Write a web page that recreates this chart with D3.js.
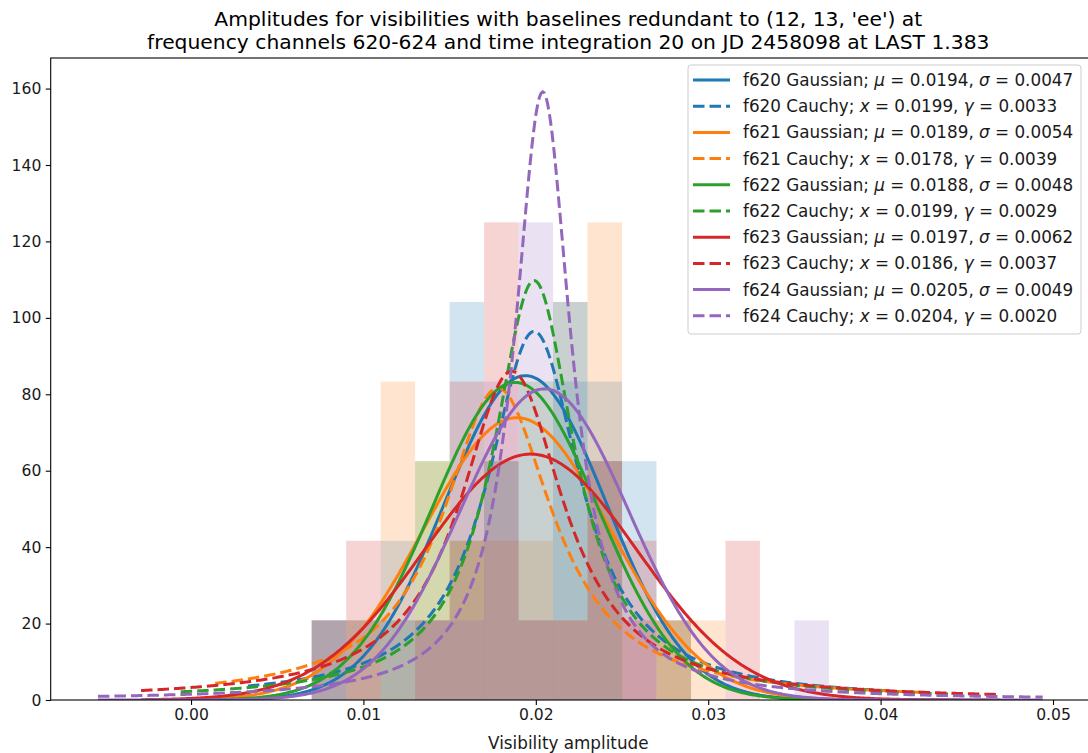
<!DOCTYPE html>
<html>
<head>
<meta charset="utf-8">
<script src="https://cdn.jsdelivr.net/npm/d3@7"></script>
<style>
  html, body { margin: 0; padding: 0; background: #fff; }
  svg { display: block; font-family: "DejaVu Sans", sans-serif; }
</style>
</head>
<body>
<svg id="chart" width="1088" height="753"></svg>
<script>
// Frequency channels and their colours
const channels = ["f620", "f621", "f622", "f623", "f624"];
const colors = ["#1f77b4", "#ff7f0e", "#2ca02c", "#d62728", "#9467bd"];

// Shared histogram bin edges (visibility amplitude)
const binEdges = [0.007, 0.009, 0.011, 0.013, 0.015, 0.017, 0.019, 0.021,
                  0.023, 0.025, 0.027, 0.029, 0.031, 0.033, 0.035, 0.037];
const samplesPerChannel = 24;

// Baseline counts per bin for each channel
const counts620 = [1, 0, 2, 1, 5, 3, 1, 4, 4, 3, 0, 0, 0, 0, 0];
const counts621 = [0, 1, 4, 3, 2, 2, 2, 1, 6, 1, 1, 1, 0, 0, 0];
const counts622 = [1, 1, 1, 3, 2, 3, 4, 5, 3, 0, 1, 0, 0, 0, 0];
const counts623 = [1, 2, 0, 1, 4, 6, 1, 1, 3, 2, 1, 0, 2, 0, 0];
const counts624 = [1, 1, 1, 1, 1, 4, 6, 5, 3, 1, 0, 0, 0, 0, 1];
const histCounts = [counts620, counts621, counts622, counts623, counts624];

// Fitted parameters
const gaussMu    = [0.0194, 0.0189, 0.0188, 0.0197, 0.0205];
const gaussSigma = [0.0047, 0.0054, 0.0048, 0.0062, 0.0049];
const cauchyX     = [0.0199, 0.0178, 0.0199, 0.0186, 0.0204];
const cauchyGamma = [0.0033, 0.0039, 0.0029, 0.0037, 0.0020];

// Amplitude span over which each channel's fitted curves are evaluated
const curveStart = [0.0033, 0.0014, -0.0006, -0.0029, -0.0054];
const curveEnd   = [0.0407, 0.0426, 0.0446, 0.0469, 0.0494];

// Axis ticks
const xTicks = [0.00, 0.01, 0.02, 0.03, 0.04, 0.05];
const yTicks = [0, 20, 40, 60, 80, 100, 120, 140, 160];

const titleLines = [
  "Amplitudes for visibilities with baselines redundant to (12, 13, 'ee') at",
  "frequency channels 620-624 and time integration 20 on JD 2458098 at LAST 1.383"
];
const xLabel = "Visibility amplitude";

// ---------------------------------------------------------------------------
const svg = d3.select("#chart");
const plotLeft = 50.7, plotRight = 1089.9, plotTop = 58, plotBottom = 700;

const x = d3.scaleLinear().domain([-0.00814, 0.05214]).range([plotLeft, plotRight]);
const y = d3.scaleLinear().domain([0, 168]).range([plotBottom, plotTop]);

svg.append("defs").append("clipPath").attr("id", "plotclip")
  .append("rect").attr("x", plotLeft).attr("y", plotTop)
  .attr("width", plotRight - plotLeft).attr("height", plotBottom - plotTop);

const plot = svg.append("g").attr("clip-path", "url(#plotclip)");

// Density histograms
histCounts.forEach((cnt, ci) => {
  const binW = binEdges[1] - binEdges[0];
  const density = cnt.map(c => c / (samplesPerChannel * binW));
  plot.append("g").selectAll("rect")
    .data(density.map((d, i) => ({ d, x0: binEdges[i], x1: binEdges[i + 1] })).filter(b => b.d > 0))
    .join("rect")
    .attr("x", b => x(b.x0))
    .attr("width", b => x(b.x1) - x(b.x0))
    .attr("y", b => y(b.d))
    .attr("height", b => y(0) - y(b.d))
    .attr("fill", colors[ci])
    .attr("fill-opacity", 0.2);
});

// Fitted curves
const gaussPdf = (v, mu, s) => Math.exp(-0.5 * ((v - mu) / s) ** 2) / (s * Math.sqrt(2 * Math.PI));
const cauchyPdf = (v, x0, g) => 1 / (Math.PI * g * (1 + ((v - x0) / g) ** 2));
const line = d3.line().x(p => x(p[0])).y(p => y(p[1]));
const nPts = 600;

channels.forEach((ch, ci) => {
  const xs = d3.range(nPts).map(i => curveStart[ci] + (curveEnd[ci] - curveStart[ci]) * i / (nPts - 1));
  plot.append("path")
    .attr("d", line(xs.map(v => [v, gaussPdf(v, gaussMu[ci], gaussSigma[ci])])))
    .attr("fill", "none").attr("stroke", colors[ci]).attr("stroke-width", 3);
  plot.append("path")
    .attr("d", line(xs.map(v => [v, cauchyPdf(v, cauchyX[ci], cauchyGamma[ci])])))
    .attr("fill", "none").attr("stroke", colors[ci]).attr("stroke-width", 3)
    .attr("stroke-dasharray", "11.5,5");
});

// Axes
const tickFont = 15.6;
const xAxis = svg.append("g").attr("transform", `translate(0,${plotBottom})`)
  .call(d3.axisBottom(x).tickValues(xTicks).tickFormat(d3.format(".2f")).tickSize(4.9).tickPadding(4.5));
const yAxis = svg.append("g").attr("transform", `translate(${plotLeft},0)`)
  .call(d3.axisLeft(y).tickValues(yTicks).tickFormat(d3.format("d")).tickSize(4.9).tickPadding(4.5));
[xAxis, yAxis].forEach(a => {
  a.select(".domain").remove();
  a.selectAll(".tick line").attr("stroke", "#000").attr("stroke-width", 1.1);
  a.selectAll(".tick text").attr("fill", "#1a1a1a")
    .style("font-family", "'DejaVu Sans', sans-serif").style("font-size", tickFont + "px");
});

// Spines
svg.append("rect").attr("x", plotLeft).attr("y", plotTop)
  .attr("width", plotRight - plotLeft).attr("height", plotBottom - plotTop)
  .attr("fill", "none").attr("stroke", "#000").attr("stroke-width", 1.1);

// Title and axis label
const cx = (plotLeft + plotRight) / 2 - 2;
const title = svg.append("text").attr("text-anchor", "middle")
  .attr("x", cx).style("font-size", "20.3px").attr("fill", "#000");
titleLines.forEach((t, i) => {
  title.append("tspan").attr("x", cx).attr("y", 25.5 + i * 23.5).text(t);
});
svg.append("text").attr("text-anchor", "middle")
  .attr("x", cx).attr("y", 748.5)
  .style("font-size", "16.8px").attr("fill", "#1a1a1a").text(xLabel);

// Legend
const legend = svg.append("g");
legend.append("rect").attr("x", 688).attr("y", 65).attr("width", 393).attr("height", 269)
  .attr("rx", 3).attr("ry", 3)
  .attr("fill", "#fff").attr("fill-opacity", 0.8)
  .attr("stroke", "#cccccc").attr("stroke-width", 1);

const fmt = d3.format(".4f");
const rowY0 = 80, rowStep = 26.2;
channels.forEach((ch, ci) => {
  const rows = [
    { dash: null, name: "Gaussian", p1: "\u03bc", v1: gaussMu[ci], p2: "\u03c3", v2: gaussSigma[ci] },
    { dash: "11.5,5", name: "Cauchy", p1: "x", v1: cauchyX[ci], p2: "\u03b3", v2: cauchyGamma[ci] }
  ];
  rows.forEach((r, ri) => {
    const yy = rowY0 + (ci * 2 + ri) * rowStep;
    const h = legend.append("line").attr("x1", 693).attr("x2", 730)
      .attr("y1", yy).attr("y2", yy)
      .attr("stroke", colors[ci]).attr("stroke-width", 3);
    if (r.dash) h.attr("stroke-dasharray", r.dash);
    const t = legend.append("text").attr("x", 743).attr("y", yy + 6)
      .style("font-size", "16.8px").attr("fill", "#1a1a1a");
    t.append("tspan").text(`${ch} ${r.name}; `);
    t.append("tspan").style("font-style", "italic").text(r.p1);
    t.append("tspan").text(` = ${fmt(r.v1)}, `);
    t.append("tspan").style("font-style", "italic").text(r.p2);
    t.append("tspan").text(` = ${fmt(r.v2)}`);
  });
});
</script>
</body>
</html>
